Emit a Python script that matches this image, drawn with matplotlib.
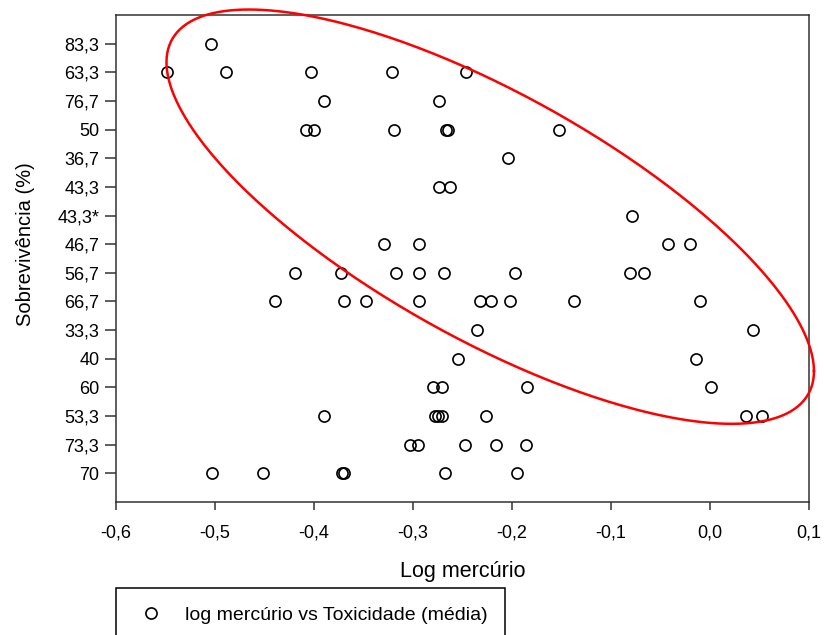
import numpy as np
import matplotlib
matplotlib.use("Agg")
import matplotlib.pyplot as plt

plt.rcParams['font.family'] = ['Liberation Sans', 'DejaVu Sans']

# y-axis categories, top to bottom
categorias = ['83,3', '63,3', '76,7', '50', '36,7', '43,3', '43,3*', '46,7',
              '56,7', '66,7', '33,3', '40', '60', '53,3', '73,3', '70']

# log mercurio values read per category
log_mercurio = {
    '83,3': [-0.504],
    '63,3': [-0.548, -0.489, -0.403, -0.321, -0.246],
    '76,7': [-0.390, -0.274],
    '50': [-0.408, -0.400, -0.319, -0.267, -0.265, -0.153],
    '36,7': [-0.204],
    '43,3': [-0.274, -0.263],
    '43,3*': [-0.079],
    '46,7': [-0.329, -0.294, -0.042, -0.020],
    '56,7': [-0.419, -0.373, -0.317, -0.294, -0.269, -0.197, -0.081, -0.067],
    '66,7': [-0.439, -0.370, -0.347, -0.294, -0.232, -0.221, -0.202, -0.137, -0.010],
    '33,3': [-0.235, 0.043],
    '40': [-0.255, -0.014],
    '60': [-0.280, -0.271, -0.185, 0.001],
    '53,3': [-0.390, -0.278, -0.275, -0.271, -0.226, 0.036, 0.053],
    '73,3': [-0.303, -0.295, -0.247, -0.216, -0.186],
    '70': [-0.503, -0.452, -0.372, -0.370, -0.268, -0.195],
}

xticks = [-0.6, -0.5, -0.4, -0.3, -0.2, -0.1, 0.0, 0.1]
xticklabels = ['-0,6', '-0,5', '-0,4', '-0,3', '-0,2', '-0,1', '0,0', '0,1']

# ellipse (x = cx + ax*cos t ; y = cy + cy1*cos t + cy2*sin t), y in category positions
elipse_centro = (-0.222, 7.04)
elipse_ax = 0.327
elipse_cy1 = 5.39
elipse_cy2 = 4.82

xs, ys = [], []
for i, cat in enumerate(categorias):
    for v in log_mercurio[cat]:
        xs.append(v)
        ys.append(i + 1)

fig = plt.figure(figsize=(8.24, 6.35), dpi=100)
ax = fig.add_axes([116 / 824, 1 - 502 / 635, (809 - 116) / 824, (502 - 15) / 635])

ax.plot(xs, ys, 'o', ls='none', mfc='none', mec='black', ms=8, mew=1.2,
        label='log mercúrio vs Toxicidade (média)', zorder=3)

t = np.linspace(0, 2 * np.pi, 400)
ex = elipse_centro[0] + elipse_ax * np.cos(t)
ey = elipse_centro[1] + elipse_cy1 * np.cos(t) + elipse_cy2 * np.sin(t)
ax.plot(ex, ey, color='#ff0000', lw=1.8, clip_on=False, zorder=4)

ax.set_xlim(-0.6, 0.1)
ax.set_ylim(len(categorias) + 1, 0)
ax.set_xticks(xticks)
ax.set_xticklabels(xticklabels)
ax.set_yticks(np.arange(1, len(categorias) + 1))
ax.set_yticklabels(categorias)
ax.tick_params(axis='both', labelsize=13, width=1.1, color='#333333')
ax.tick_params(axis='x', length=6, pad=10)
ax.tick_params(axis='y', length=8, pad=4)
for s in ax.spines.values():
    s.set_color('#333333')
    s.set_linewidth(1.1)

ax.set_xlabel('Log mercúrio', fontsize=15.5, labelpad=14)
ax.set_ylabel('Sobrevivência (%)', fontsize=14.5)
ax.yaxis.set_label_coords(-0.117, 0.53)

leg = ax.legend(loc='upper left', bbox_to_anchor=(116 / 824, 0, 389 / 824, 1 - 588 / 635),
                bbox_transform=fig.transFigure, mode='expand', borderaxespad=0,
                fontsize=14, borderpad=0.93, handlelength=1.75, handletextpad=0.86,
                fancybox=False, framealpha=1, edgecolor='black')
leg.get_frame().set_linewidth(1.1)

fig.savefig('out.png', dpi=100)
